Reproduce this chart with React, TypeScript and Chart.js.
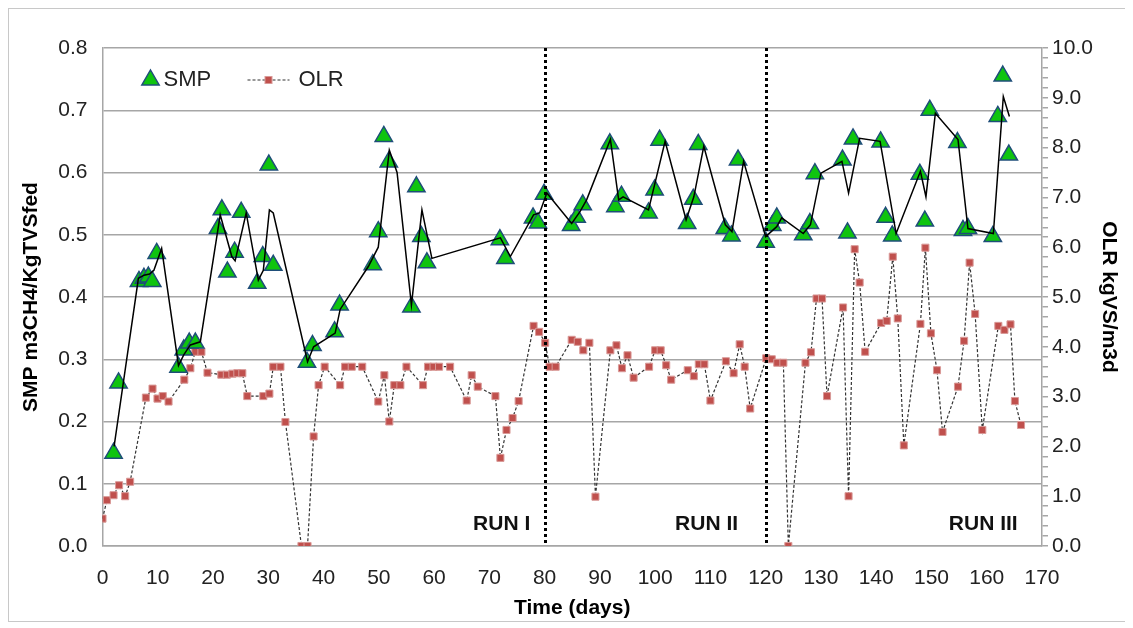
import React, { useEffect, useRef } from "react";
import { Chart, registerables } from "chart.js";

Chart.register(...registerables);

// ---------- data ----------
const smpDays = [
  2.0, 2.9, 6.6, 7.5, 8.3, 9.0, 9.8, 13.75, 14.7, 15.7, 16.8, 20.9, 21.6, 22.6, 23.9,
  25.1, 28.0, 29.0, 30.1, 30.9, 37.0, 38.0, 42.0, 42.9, 48.9, 49.9, 50.9, 51.8, 55.9,
  56.8, 57.7, 58.7, 71.9, 72.9, 77.9, 78.8, 79.9, 84.8, 85.8, 86.9, 91.8, 92.8, 93.9,
  98.8, 99.9, 100.8, 105.8, 106.9, 107.8, 112.6, 113.8, 115.0, 120.0, 121.2, 122.0,
  126.8, 128.0, 128.9, 133.9, 134.8, 135.8, 140.8, 141.7, 142.9, 147.9, 148.8, 149.7,
  154.7, 155.7, 156.6, 161.1, 162.0, 162.9, 164.0,
];
const smpValues = [
  0.149, 0.262, 0.425, 0.43, 0.432, 0.425, 0.47, 0.287, 0.315, 0.326, 0.326, 0.51, 0.54,
  0.44, 0.472, 0.536, 0.422, 0.465, 0.612, 0.451, 0.295, 0.322, 0.344, 0.387, 0.452,
  0.505, 0.658, 0.617, 0.384, 0.577, 0.497, 0.455, 0.492, 0.462, 0.527, 0.519, 0.565,
  0.515, 0.528, 0.548, 0.646, 0.545, 0.562, 0.535, 0.572, 0.652, 0.518, 0.557, 0.645,
  0.51, 0.498, 0.62, 0.488, 0.515, 0.527, 0.5, 0.518, 0.598, 0.62, 0.503, 0.654, 0.649,
  0.528, 0.498, 0.597, 0.522, 0.7, 0.648, 0.507, 0.51, 0.497, 0.69, 0.755, 0.628,
];

const trendDays = [
  2.1, 6.5, 7.5, 8.5, 9.3, 10.7, 13.75, 14.7, 15.9, 17.7, 21.3, 23.4, 24.0, 26.0, 28.2,
  29.1, 30.2, 30.9, 37.1, 38.2, 42.1, 43.0, 48.1, 49.9, 51.9, 53.3, 55.9, 57.8, 59.6,
  72.0, 73.8, 78.0, 79.1, 80.4, 84.9, 86.4, 87.6, 91.9, 93.4, 94.2, 98.8, 101.8, 105.6,
  107.0, 108.8, 112.7, 113.9, 116.0, 120.0, 122.0, 122.9, 126.8, 128.1, 130.0, 133.8,
  135.0, 137.0, 140.7, 143.6, 148.0, 149.0, 150.7, 154.8, 156.6, 161.2, 163.0, 164.1,
];
const trendValues = [
  0.16, 0.43, 0.435, 0.437, 0.443, 0.478, 0.29, 0.307, 0.323, 0.328, 0.532, 0.465,
  0.458, 0.535, 0.427, 0.443, 0.54, 0.535, 0.296, 0.32, 0.342, 0.38, 0.449, 0.48, 0.636,
  0.6, 0.387, 0.54, 0.462, 0.495, 0.465, 0.532, 0.535, 0.567, 0.518, 0.537, 0.556,
  0.653, 0.556, 0.561, 0.54, 0.65, 0.524, 0.561, 0.642, 0.516, 0.505, 0.618, 0.497,
  0.513, 0.527, 0.502, 0.516, 0.599, 0.618, 0.567, 0.655, 0.65, 0.502, 0.602, 0.561,
  0.695, 0.653, 0.51, 0.502, 0.722, 0.69,
];

const olrDays = [
  0, 0.8, 2.0, 3.0, 4.1, 5.0, 7.85, 9.05, 9.95, 10.9, 11.95, 14.8, 15.9, 16.8, 17.9, 19.0,
  21.5, 22.5, 23.5, 24.4, 25.3, 26.2, 29.1, 30.2, 30.9, 32.2, 33.1, 36.0, 37.1, 38.2,
  39.1, 40.2, 43.0, 43.9, 45.1, 47.0, 49.9, 51.0, 51.9, 52.8, 53.9, 55.0, 58.0, 58.9,
  59.9, 60.9, 62.9, 65.9, 66.8, 67.9, 71.1, 72.0, 73.1, 74.2, 75.3, 78.0, 79.0, 80.1,
  80.9, 82.0, 84.9, 86.0, 87.0, 88.1, 89.2, 91.9, 93.0, 94.0, 95.0, 96.1, 98.9, 100.0,
  101.0, 102.0, 102.9, 105.9, 107.0, 107.9, 108.9, 110.0, 112.8, 114.2, 115.3, 116.2,
  117.2, 120.1, 121.1, 122.1, 123.2, 124.1, 127.2, 128.2, 129.2, 130.2, 131.1, 134.0,
  135.0, 136.1, 137.0, 138.0, 140.9, 141.9, 143.0, 143.9, 145.0, 148.0, 148.9, 149.9,
  151.0, 152.0, 154.8, 155.9, 156.9, 157.9, 159.2, 162.1, 163.2, 164.3, 165.1, 166.2,
];
const olrValues = [
  0.55, 0.92, 1.02, 1.22, 1.0, 1.29, 2.98, 3.16, 2.96, 3.01, 2.9, 3.34, 3.57, 3.9, 3.9,
  3.48, 3.44, 3.44, 3.46, 3.47, 3.47, 3.01, 3.01, 3.06, 3.6, 3.6, 2.49, 0, 0, 2.2, 3.23,
  3.6, 3.23, 3.6, 3.6, 3.6, 2.9, 3.43, 2.5, 3.23, 3.23, 3.6, 3.23, 3.6, 3.6, 3.6, 3.6,
  2.92, 3.43, 3.2, 3.01, 1.77, 2.33, 2.57, 2.91, 4.42, 4.3, 4.08, 3.6, 3.6, 4.14, 4.1,
  3.93, 4.08, 0.99, 3.93, 4.03, 3.57, 3.83, 3.38, 3.6, 3.93, 3.93, 3.63, 3.34, 3.53,
  3.41, 3.65, 3.65, 2.92, 3.71, 3.47, 4.05, 3.6, 2.76, 3.77, 3.75, 3.68, 3.68, 0, 3.68,
  3.89, 4.97, 4.97, 3.01, 4.79, 1.0, 5.96, 5.29, 3.9, 4.48, 4.52, 5.81, 4.57, 2.02,
  4.46, 5.99, 4.27, 3.53, 2.29, 3.2, 4.12, 5.69, 4.66, 2.33, 4.42, 4.34, 4.45, 2.91, 2.43,
];

const runDividers = [80, 120];
const runLabels = ["RUN I", "RUN II", "RUN III"];
const runLabelEnds = [77.4, 115.0, 165.6];
const runLabelLevel = 0.035;

const leftTitle = "SMP m3CH4/KgTVSfed";
const rightTitle = "OLR kgVS/m3d";
const xTitle = "Time (days)";
const legendLabels = ["SMP", "OLR"];

// ---------- styles ----------
const FONT = "'Liberation Sans', Arial, sans-serif";
const GREEN = "#0fc40f";
const TRI_EDGE = "#1f4e79";
const OLR_FILL = "#c0504d";
const OLR_EDGE = "#d99a98";
const GRID = "#a6a6a6";

const toPts = (xs: number[], ys: number[]) => xs.map((x, i) => ({ x, y: ys[i] }));

const overlayPlugin = {
  id: "overlay",
  afterDatasetsDraw(chart: any) {
    const { ctx, chartArea } = chart;
    const x = chart.scales.x;
    const y = chart.scales.y;
    ctx.save();
    // run dividers
    ctx.strokeStyle = "#000";
    ctx.lineWidth = 3;
    ctx.setLineDash([3, 3]);
    runDividers.forEach((d) => {
      const px = Math.round(x.getPixelForValue(d)) + 0.5;
      ctx.beginPath();
      ctx.moveTo(px, chartArea.top);
      ctx.lineTo(px, chartArea.bottom);
      ctx.stroke();
    });
    ctx.setLineDash([]);
    // run labels
    ctx.font = `bold 21px ${FONT}`;
    ctx.fillStyle = "#111";
    ctx.textAlign = "right";
    ctx.textBaseline = "middle";
    runLabels.forEach((t, i) => {
      ctx.fillText(t, x.getPixelForValue(runLabelEnds[i]), y.getPixelForValue(runLabelLevel));
    });
    // legend
    const ly = chartArea.top + 32;
    const tx = chartArea.left + 48;
    const r = 10;
    ctx.beginPath();
    ctx.moveTo(tx, ly - r);
    ctx.lineTo(tx + r * 0.866, ly + r / 2);
    ctx.lineTo(tx - r * 0.866, ly + r / 2);
    ctx.closePath();
    ctx.fillStyle = GREEN;
    ctx.fill();
    ctx.strokeStyle = TRI_EDGE;
    ctx.lineWidth = 1.5;
    ctx.stroke();
    ctx.font = `22px ${FONT}`;
    ctx.fillStyle = "#222";
    ctx.textAlign = "left";
    ctx.fillText(legendLabels[0], tx + 13, ly);
    const l0 = chartArea.left + 145;
    ctx.strokeStyle = "#333";
    ctx.lineWidth = 1.2;
    ctx.setLineDash([3, 2]);
    ctx.beginPath();
    ctx.moveTo(l0, ly);
    ctx.lineTo(l0 + 42, ly);
    ctx.stroke();
    ctx.setLineDash([]);
    ctx.fillStyle = OLR_FILL;
    ctx.fillRect(l0 + 17.5, ly - 3.5, 7, 7);
    ctx.strokeStyle = OLR_EDGE;
    ctx.lineWidth = 1;
    ctx.strokeRect(l0 + 17.5, ly - 3.5, 7, 7);
    ctx.fillStyle = "#222";
    ctx.fillText(legendLabels[1], l0 + 51, ly);
    ctx.restore();
  },
};

export default function App() {
  const ref = useRef<HTMLCanvasElement | null>(null);
  useEffect(() => {
    if (!ref.current) return;
    const chart = new Chart(ref.current, {
      type: "scatter",
      data: {
        datasets: [
          {
            label: "trend",
            data: toPts(trendDays, trendValues),
            yAxisID: "y",
            showLine: true,
            borderColor: "#000",
            borderWidth: 1.5,
            pointRadius: 0,
            order: 0,
          },
          {
            label: "SMP",
            data: toPts(smpDays, smpValues),
            yAxisID: "y",
            showLine: false,
            pointStyle: "triangle",
            pointRadius: 10,
            backgroundColor: GREEN,
            borderColor: TRI_EDGE,
            borderWidth: 1.5,
            order: 1,
          },
          {
            label: "OLR",
            data: toPts(olrDays, olrValues),
            yAxisID: "y1",
            showLine: true,
            borderColor: "#333",
            borderWidth: 1.2,
            borderDash: [3, 2],
            pointStyle: "rect",
            pointRadius: 5,
            backgroundColor: OLR_FILL,
            pointBorderColor: OLR_EDGE,
            pointBorderWidth: 1,
            order: 2,
          } as any,
        ],
      },
      options: {
        animation: false,
        responsive: true,
        maintainAspectRatio: false,
        layout: { padding: { top: 39, left: 0, right: 0, bottom: 0 } },
        plugins: { legend: { display: false }, tooltip: { enabled: false } },
        scales: {
          x: {
            type: "linear",
            min: 0,
            max: 170,
            afterFit: (s: any) => { s.height = 75; },
            ticks: { stepSize: 10, padding: 20, color: "#222", font: { family: FONT, size: 21 } },
            grid: { display: true, drawOnChartArea: false, drawTicks: false, color: GRID, lineWidth: 1.5 },
            border: { color: GRID, width: 1.5 },
            title: { display: true, text: xTitle, color: "#000", font: { family: FONT, size: 21, weight: "bold" }, padding: { top: 2, bottom: 0 } },
          },
          y: {
            position: "left",
            min: 0,
            max: 0.8,
            afterFit: (s: any) => { s.width = 93.5; },
            ticks: { stepSize: 0.1, padding: 15, color: "#222", font: { family: FONT, size: 21 }, callback: (v: any) => Number(v).toFixed(1) },
            grid: { color: GRID, lineWidth: 1.5, drawTicks: false },
            border: { color: GRID, width: 1.5 },
            title: { display: true, text: leftTitle, color: "#000", font: { family: FONT, size: 21, weight: "bold" }, padding: { top: 10, bottom: 0 } },
          },
          y1: {
            position: "right",
            min: 0,
            max: 10,
            afterFit: (s: any) => { s.width = 85; },
            ticks: {
              stepSize: 0.2,
              autoSkip: false,
              padding: 4,
              color: "#222",
              font: { family: FONT, size: 21 },
              callback: (v: any) => (Math.abs(v - Math.round(v)) < 1e-6 ? Number(v).toFixed(1) : ""),
            },
            grid: { drawOnChartArea: false, tickLength: 6, color: GRID, lineWidth: 1.5 },
            border: { color: GRID, width: 1.5 },
            title: { display: true, text: rightTitle, color: "#000", font: { family: FONT, size: 21, weight: "bold" }, padding: { top: 6, bottom: 0 } },
          },
        },
      } as any,
      plugins: [overlayPlugin],
    });
    return () => chart.destroy();
  }, []);
  return (
    <div style={{ width: 1118, height: 612, border: "1px solid #c8c8c8", background: "#fff" }}>
      <canvas ref={ref} />
    </div>
  );
}
